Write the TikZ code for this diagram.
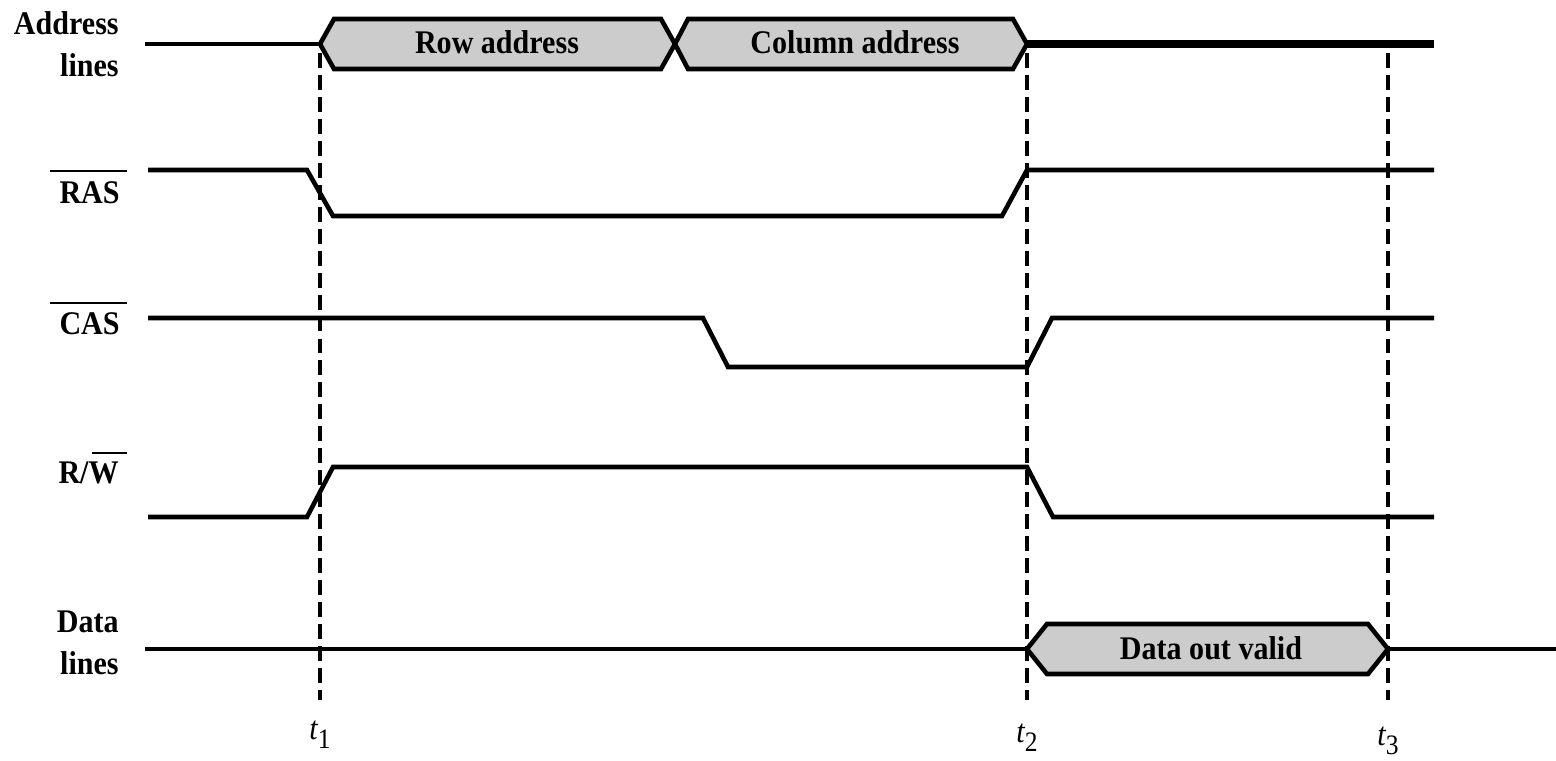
\documentclass[tikz,border=0pt]{standalone}
\usepackage{fontspec}
\setmainfont{Liberation Serif}[FakeStretch=0.91]
\newcommand{\tsub}[1]{{\itshape t}\raisebox{-0.19cm}{\fontsize{16}{16}\selectfont #1}}

\begin{document}
\begin{tikzpicture}[x=0.02cm, y=-0.02cm,
        sig/.style={line width=2.6pt, line join=miter},
        bus/.style={line width=2.6pt, fill=black!20, line join=miter},
        tmark/.style={line width=2.8pt, dash pattern=on 8.5pt off 4pt},
        ovl/.style={line width=0.8pt},
        lbl/.style={font={\bfseries\fontsize{18.8}{23.8}\selectfont}, black, align=right, anchor=east, inner sep=0pt},
        txt/.style={font={\bfseries\fontsize{18.8}{20}\selectfont}, black},
        tlbl/.style={font={\fontsize{18.8}{20}\selectfont}, black, anchor=base}]
        \useasboundingbox (0,0) rectangle (1556,761);

        % time markers
        \draw[tmark] (320,53) -- (320,700);
        \draw[tmark] (1027,53) -- (1027,700);
        \draw[tmark] (1388,53) -- (1388,700);

        \node[tlbl] (t1) at (320,739) {\tsub{1}};
        \node[tlbl] (t2) at (1027,742) {\tsub{2}};
        \node[tlbl] (t3) at (1388,745) {\tsub{3}};

        % address lines
        \node[lbl] (addr) at (119,44) {Address\\lines};
        \draw[sig] (145,44) -- (320,44);
        \draw[bus] (320,44) -- (334,19) -- (661,19) -- (675,44) -- (661,69) -- (334,69) -- cycle;
        \draw[bus] (675,44) -- (688,19) -- (1013,19) -- (1027,44) -- (1013,69) -- (688,69) -- cycle;
        \draw[line width=4pt] (1027,44) -- (1434,44);
        \node[txt] (row) at (497,42) {Row address};
        \node[txt] (col) at (855,42) {Column address};

        % RAS
        \node[lbl] (ras) at (120,193) {RAS};
        \draw[ovl] (50,171) -- (127,171);
        \draw[sig] (148,170) -- (307,170) -- (333,216) -- (1002,216) -- (1027,170) -- (1434,170);

        % CAS
        \node[lbl] (cas) at (120,324) {CAS};
        \draw[ovl] (50,303) -- (127,303);
        \draw[sig] (148,318) -- (703,318) -- (728,367) -- (1027,367) -- (1052,318) -- (1434,318);

        % R/W
        \node[lbl] (rw) at (119,473) {R/W};
        \draw[ovl] (92,453) -- (127,453);
        \draw[sig] (148,517) -- (307,517) -- (333,467) -- (1027,467) -- (1053,517) -- (1434,517);

        % data lines
        \node[lbl] (data) at (119,643) {Data\\lines};
        \draw[sig] (145,649) -- (1027,649);
        \draw[bus] (1027,649) -- (1047,624) -- (1368,624) -- (1388,649) -- (1368,674) -- (1047,674) -- cycle;
        \draw[sig] (1388,649) -- (1556,649);
        \node[txt] (dout) at (1211,648) {Data out valid};
    \end{tikzpicture}
\end{document}
